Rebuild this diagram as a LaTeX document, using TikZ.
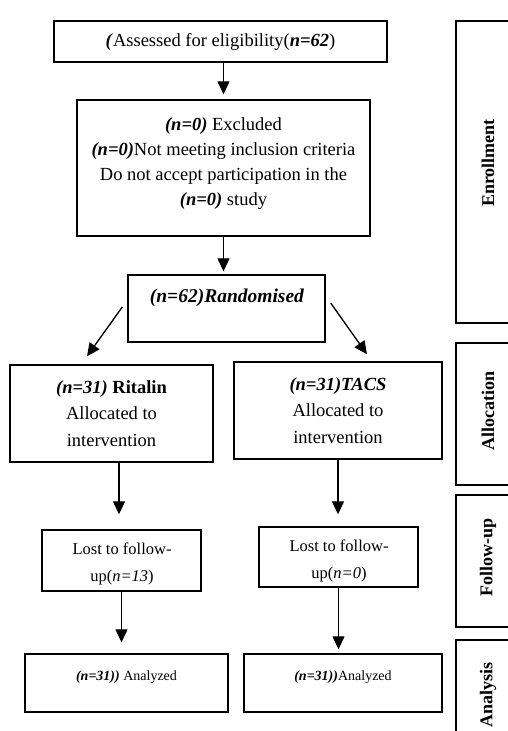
\documentclass[tikz,border=0pt]{standalone}
\usepackage{fontspec}
\setmainfont{Liberation Serif}
\usetikzlibrary{arrows.meta,calc}
\newcommand{\bi}[1]{\textbf{\textit{#1}}}
\begin{document}
\begin{tikzpicture}[x=1pt,y=-1pt,
  box/.style={draw=black, line width=1.4pt, inner sep=0pt, align=center, anchor=center},
  txt/.style={inner sep=0pt, align=center},
  arr/.style={-{Triangle[width=12pt,length=13pt]}, line width=1.3pt},
  sidebox/.style={draw=black, line width=1.4pt, inner sep=0pt},
  sidelabel/.style={rotate=90, inner sep=0pt, font=\fontsize{18}{20}\selectfont\bfseries},
  big/.style={font=\fontsize{18.5}{25}\selectfont},
  mid/.style={font=\fontsize{16.5}{27.5}\selectfont},
  small/.style={font=\fontsize{14}{16}\selectfont}]
\useasboundingbox (0,0) rectangle (508,731);
\fill[white] (0,0) rectangle (508,731);

% main boxes
\node[box, big, minimum width=333pt, minimum height=41pt] (top) at (220.5,41.5)
  {\bi{(}Assessed for eligibility(\bi{n=62})};
\node[box, minimum width=293pt, minimum height=136pt] (excl) at (223.5,168) {};
\node[txt, big] (exclt) at (223.5,163.5)
  {\bi{(n=0)} Excluded\\ \bi{(n=0)}Not meeting inclusion criteria\\ Do not accept participation in the\\ \bi{(n=0)} study};
\node[box, minimum width=197pt, minimum height=67pt] (rand) at (226.5,308.5) {};
\node[txt, font=\fontsize{19.5}{22}\selectfont] (randt) at (227,298) {\bi{(n=62)Randomised}};
\node[box, big, font=\fontsize{18.5}{26.5}\selectfont, minimum width=203pt, minimum height=97pt] (rit) at (111.5,413.5)
  {\bi{(n=31)} \textbf{Ritalin}\\ Allocated to\\ intervention};
\node[box, big, font=\fontsize{18.5}{26.5}\selectfont, minimum width=208pt, minimum height=97pt] (tacs) at (338,410.5)
  {\bi{(n=31)TACS}\\ Allocated to\\ intervention};
\node[box, minimum width=159pt, minimum height=61pt] (lostL) at (121.5,560.5) {};
\node[txt, mid] (lostLt) at (122,564)
  {Lost to follow-\\ up(\textit{n=13})};
\node[box, minimum width=159pt, minimum height=60pt] (lostR) at (338.5,557) {};
\node[txt, mid] (lostRt) at (339,561)
  {Lost to follow-\\ up(\textit{n=0})};
\node[box, minimum width=203pt, minimum height=58pt] (anaL) at (126.5,683) {};
\node[txt, small] (anaLt) at (126.5,677) {\bi{(n=31))} Analyzed};
\node[box, minimum width=198pt, minimum height=58pt] (anaR) at (343,683) {};
\node[txt, small] (anaRt) at (343,677) {\bi{(n=31))}Analyzed};

% connectors
\draw[arr] (top.south -| excl.north) -- ([yshift=5pt]excl.north);
\draw[arr, shorten >=3pt] (excl.south) -- (excl.south |- rand.north);
\draw[arr] ([xshift=-5pt,yshift=1.5pt]rand.west) -- ([xshift=-24.5pt,yshift=8pt]rit.north);
\draw[arr] ([xshift=5pt,yshift=5.5pt]rand.east) -- ([xshift=29pt,yshift=7pt]tacs.north);
\draw[arr] ([xshift=7.5pt]rit.south) -- ([xshift=-2.5pt,yshift=15pt]lostL.north);
\draw[arr, shorten >=12pt] (tacs.south) -- (tacs.south |- lostR.north);
\draw[arr, shorten >=11pt] (lostL.south) -- (lostL.south |- anaL.north);
\draw[arr, shorten >=4pt] (lostR.south) -- (lostR.south |- anaR.north);

% side stage boxes
\begin{scope}
\clip (0,0) rectangle (508,731);
\node[sidebox, minimum width=64pt, minimum height=302pt] (enr) at (488,172) {};
\node[sidebox, minimum width=64pt, minimum height=142pt] (alo) at (488,414) {};
\node[sidebox, minimum width=64pt, minimum height=132pt] (fol) at (488,561) {};
\node[sidebox, minimum width=64pt, minimum height=120pt] (ana) at (488,700) {};
\node[sidelabel] (enrl) at (488,163) {Enrollment};
\node[sidelabel] (alol) at (488,411) {Allocation};
\node[sidelabel] (foll) at (488,557) {Follow-up};
\node[sidelabel] (anal) at (488,695) {Analysis};
\end{scope}
\end{tikzpicture}
\end{document}
